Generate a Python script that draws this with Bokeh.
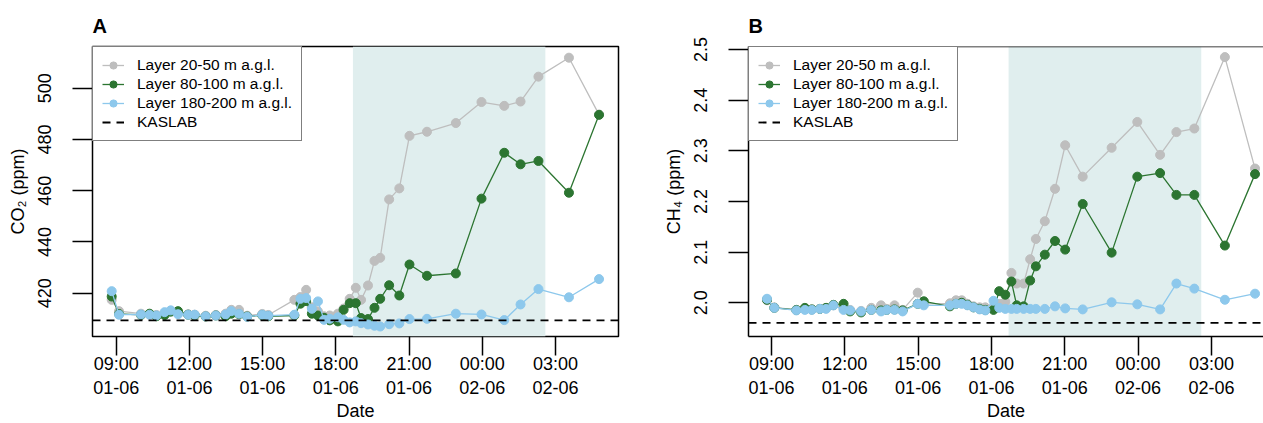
from bokeh.plotting import figure
from bokeh.models import FixedTicker, BoxAnnotation, Span, Legend, LegendItem, Range1d
from bokeh.layouts import row
from bokeh.embed import file_html
from bokeh.resources import INLINE

# ---------------- data ----------------
times = ["01-06 08:49", "01-06 09:07", "01-06 10:01", "01-06 10:22", "01-06 10:39",
         "01-06 10:59", "01-06 11:14", "01-06 11:32", "01-06 11:57", "01-06 12:13",
         "01-06 12:40", "01-06 13:05", "01-06 13:29", "01-06 13:43", "01-06 14:02",
         "01-06 14:22", "01-06 14:59", "01-06 15:14", "01-06 16:18", "01-06 16:33",
         "01-06 16:47", "01-06 17:01", "01-06 17:16", "01-06 17:31", "01-06 17:45",
         "01-06 18:05", "01-06 18:19", "01-06 18:34", "01-06 18:49", "01-06 19:02",
         "01-06 19:19", "01-06 19:35", "01-06 19:49", "01-06 20:11", "01-06 20:36",
         "01-06 21:01", "01-06 21:44", "01-06 22:55", "01-06 23:58", "02-06 00:54",
         "02-06 01:34", "02-06 02:18", "02-06 03:33", "02-06 04:47"]

co2_20_50 = [417.4, 413.0, 412.0, 411.8, 411.5, 412.0, 413.0, 412.3, 411.8, 411.6,
             411.2, 411.5, 412.0, 413.5, 413.5, 411.2, 411.9, 411.5, 417.4, 418.5,
             421.3, 414.5, 412.9, 411.0, 411.3, 412.0, 414.0, 417.8, 422.1, 417.4,
             423.0, 432.6, 433.8, 456.6, 460.9, 481.4, 483.0, 486.4, 494.6, 493.1,
             494.8, 504.5, 511.9, 489.7]
co2_80_100 = [418.7, 411.9, 411.5, 412.0, 411.0, 411.5, 412.8, 413.0, 411.6, 411.3,
              410.9, 411.3, 411.0, 412.0, 411.8, 410.9, 411.4, 411.0, 411.3, 415.9,
              416.9, 412.0, 411.3, 410.4, 409.4, 409.0, 413.5, 416.1, 416.1, 410.3,
              409.9, 414.3, 417.8, 423.1, 419.1, 431.2, 426.8, 427.7, 456.9, 474.8,
              470.3, 471.6, 459.2, 489.6]
co2_180_200 = [420.8, 411.6, 411.7, 411.6, 411.3, 412.6, 413.3, 411.8, 411.6, 411.6,
               411.0, 411.3, 411.7, 413.0, 412.0, 410.8, 411.6, 411.2, 411.6, 417.8,
               418.1, 413.9, 416.8, 409.6, 410.0, 410.6, 409.6, 408.6, 409.0, 408.3,
               407.8, 407.3, 407.0, 407.9, 408.2, 409.9, 410.0, 412.0, 411.7, 409.5,
               415.6, 421.6, 418.4, 425.5]

ch4_20_50 = [2.005, 1.991, 1.986, 1.988, 1.987, 1.988, 1.990, 1.995, 1.988, 1.986,
             1.984, 1.990, 1.995, 1.988, 1.995, 1.986, 2.020, 1.998, 1.999, 2.005,
             2.005, 1.998, 1.993, 1.991, 1.991, 1.991, 1.998, 2.002, 2.059, 2.038,
             2.038, 2.086, 2.126, 2.161, 2.225, 2.311, 2.249, 2.306, 2.357, 2.292,
             2.337, 2.344, 2.485, 2.265]
ch4_80_100 = [2.006, 1.990, 1.986, 1.990, 1.987, 1.988, 1.990, 1.996, 1.998, 1.983,
              1.981, 1.986, 1.985, 1.986, 1.987, 1.985, 1.998, 2.003, 1.993, 1.998,
              2.000, 1.996, 1.991, 1.988, 1.986, 1.986, 2.023, 2.016, 2.042, 1.995,
              1.993, 2.044, 2.072, 2.095, 2.122, 2.105, 2.195, 2.099, 2.249, 2.256,
              2.213, 2.213, 2.113, 2.254]
ch4_180_200 = [2.008, 1.990, 1.985, 1.986, 1.986, 1.988, 1.988, 1.995, 1.986, 1.985,
               1.983, 1.986, 1.983, 1.986, 1.986, 1.983, 1.998, 1.995, 1.995, 1.998,
               1.998, 1.995, 1.991, 1.987, 1.985, 2.004, 1.990, 1.988, 1.988, 1.988,
               1.988, 1.988, 1.988, 1.988, 1.993, 1.989, 1.987, 2.001, 1.997, 1.987,
               2.038, 2.028, 2.006, 2.018]

kaslab_co2 = 409.4
kaslab_ch4 = 1.9605
night_start = "01-06 18:42"
night_end = "02-06 02:35"

series_labels = ["Layer 20-50 m a.g.l.", "Layer 80-100 m a.g.l.", "Layer 180-200 m a.g.l."]
series_colors = ["#BEBEBE", "#2C7531", "#8DC8EC"]
ref_label = "KASLAB"

tick_hours = [9, 12, 15, 18, 21, 24, 27]
tick_labels = ["09:00\n01-06", "12:00\n01-06", "15:00\n01-06", "18:00\n01-06",
               "21:00\n01-06", "00:00\n02-06", "03:00\n02-06"]
co2_ticks = [420, 440, 460, 480, 500]
ch4_ticks = [2.0, 2.1, 2.2, 2.3, 2.4, 2.5]
ch4_tick_labels = ["2.0", "2.1", "2.2", "2.3", "2.4", "2.5"]


def to_hours(s):
    d, hm = s.split()
    day = int(d.split("-")[0])
    h, m = hm.split(":")
    return (day - 1) * 24 + int(h) + int(m) / 60.0


hours = [to_hours(t) for t in times]
FONT = "Liberation Sans"


def make_panel(title, ylabel, series, kaslab, yticks, ylabels, xr, yr,
               frame_w, mb_left, mb_right, full_box):
    p = figure(frame_width=frame_w, frame_height=290,
               x_range=Range1d(*xr), y_range=Range1d(*yr),
               output_backend="svg", toolbar_location=None,
               min_border_left=mb_left, min_border_right=mb_right,
               min_border_top=46, min_border_bottom=87)
    p.grid.visible = False
    p.background_fill_color = "white"
    p.border_fill_color = "white"

    # title
    p.title.text = title
    p.title.text_font = FONT
    p.title.text_font_size = "20px"
    p.title.text_font_style = "bold"
    p.title.text_color = "black"
    p.title.align = "left"
    p.title.offset = 0
    p.title.standoff = 20

    # shaded night window
    p.add_layout(BoxAnnotation(left=to_hours(night_start), right=to_hours(night_end),
                               fill_color="#E0EEEE", fill_alpha=1.0, line_color=None,
                               level="underlay"))

    items = []
    for vals, lab, col in zip(series, series_labels, series_colors):
        l = p.line(hours, vals, line_color=col, line_width=1.3)
        s = p.scatter(hours, vals, size=9, fill_color=col, line_color=col)
        items.append(LegendItem(label=lab, renderers=[l, s]))
    kl = p.line([xr[0], xr[1]], [kaslab, kaslab], line_color="black", line_width=1.8,
                line_dash="8 6")
    items.append(LegendItem(label=ref_label, renderers=[kl]))

    legend = Legend(items=items, location="top_left", margin=0, padding=9, spacing=1,
                    glyph_height=18, glyph_width=22, label_height=18, label_standoff=13,
                    label_text_font=FONT, label_text_font_size="15.5px",
                    label_text_color="black",
                    border_line_color="black", border_line_width=1.5,
                    background_fill_color="white", background_fill_alpha=1.0)
    p.add_layout(legend)

    # x axis
    xa = p.xaxis[0]
    xa.ticker = FixedTicker(ticks=tick_hours)
    xa.major_label_overrides = {h: lab for h, lab in zip(tick_hours, tick_labels)}
    xa.major_tick_out = 19
    xa.major_tick_in = 0
    xa.minor_tick_line_color = None
    xa.major_tick_line_width = 1.5
    xa.major_tick_line_color = "black"
    xa.major_label_standoff = -2
    xa.major_label_text_font = FONT
    xa.major_label_text_font_size = "18px"
    xa.major_label_text_color = "black"
    xa.axis_label = "Date"
    xa.axis_label_text_font = FONT
    xa.axis_label_text_font_size = "18px"
    xa.axis_label_text_font_style = "normal"
    xa.axis_label_text_color = "black"
    xa.axis_label_standoff = 0

    # y axis
    ya = p.yaxis[0]
    ya.ticker = FixedTicker(ticks=yticks)
    ya.major_label_overrides = {t: lab for t, lab in zip(yticks, ylabels)}
    ya.major_label_orientation = "vertical"
    ya.major_tick_out = 20
    ya.major_tick_in = 0
    ya.minor_tick_line_color = None
    ya.major_tick_line_width = 1.5
    ya.major_tick_line_color = "black"
    ya.major_label_standoff = 21
    ya.major_label_text_font = FONT
    ya.major_label_text_font_size = "18px"
    ya.major_label_text_color = "black"
    ya.axis_label = ylabel
    ya.axis_label_text_font = FONT
    ya.axis_label_text_font_size = "18px"
    ya.axis_label_text_font_style = "normal"
    ya.axis_label_text_color = "black"
    ya.axis_label_standoff = 8

    if full_box:
        p.outline_line_color = "black"
        p.outline_line_width = 1.5
        p.outline_line_alpha = 1.0
        xa.axis_line_color = None
        ya.axis_line_color = None
    else:
        p.outline_line_color = None
        xa.axis_line_color = "black"
        xa.axis_line_width = 1.5
        ya.axis_line_color = "black"
        ya.axis_line_width = 1.5
        p.add_layout(Span(location=yr[1], dimension="width", line_color="black",
                          line_width=1.5))
    return p


pA = make_panel("A", "CO\u2082 (ppm)", [co2_20_50, co2_80_100, co2_180_200], kaslab_co2,
                co2_ticks, [str(t) for t in co2_ticks], (8.03, 29.58), (403.1, 516.27),
                526, 92, 42, True)
pB = make_panel("B", "CH\u2084 (ppm)", [ch4_20_50, ch4_80_100, ch4_180_200], kaslab_ch4,
                ch4_ticks, ch4_tick_labels, (8.06, 29.13), (1.9335, 2.5059),
                515, 88, 0, False)

layout = row(pA, pB, spacing=0)
open("out.html", "w").write(file_html(layout, INLINE))
